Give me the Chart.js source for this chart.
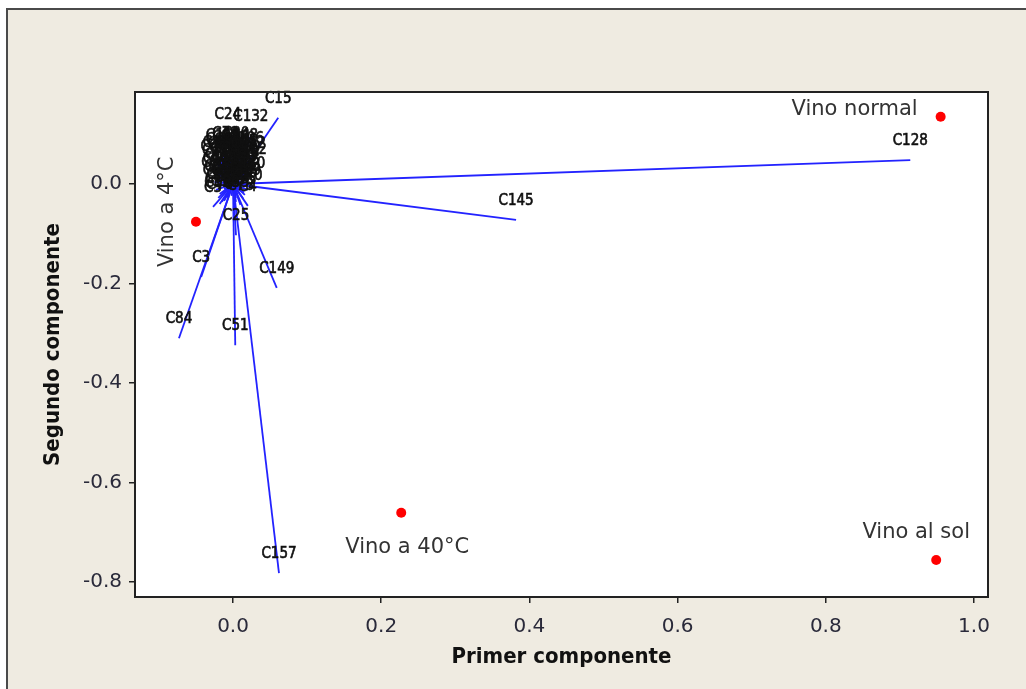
<!DOCTYPE html>
<html>
<head>
<meta charset="utf-8">
<script src="https://cdn.jsdelivr.net/npm/chart.js@4.4.1/dist/chart.umd.min.js"></script>
<style>
  html, body { margin: 0; padding: 0; background: #ffffff; }
  #wrap { width: 1026px; height: 689px; position: relative; }
</style>
</head>
<body>
<div id="wrap"><canvas id="c" width="1026" height="689"></canvas></div>
<script>
// ---------- DATA ----------
const xTickValues = [0.0, 0.2, 0.4, 0.6, 0.8, 1.0];
const yTickValues = [-0.8, -0.6, -0.4, -0.2, 0.0];

// Loading vectors (component 1, component 2)
const vectorNames = ['C128','C145','C15','C157','C149','C51','C84','C3','C25','C24','C132',
  'C1','C2','C6','C8','C9','C10','C11','C13','C14','C16','C17','C19','C20','C21','C22','C23','C26',
  'C28','C29','C30','C31','C32','C34','C35','C36','C38','C39','C5','C4',
  'C40','C42','C43','C45','C46','C47','C48','C49','C50','C52','C53','C54','C55',
  'C57','C58','C60','C61','C63','C65','C66','C67','C68','C69','C71','C72','C74','C75','C76','C78','C79','C80',
  'C102','C106','C110','C114','C118','C120','C122','C126','C130','C134','C138','C140','C142','C148','C150','C152'];
const vectorPC1 = [0.914, 0.382, 0.061, 0.062, 0.059, 0.003, -0.073, -0.043, 0.004, -0.007, 0.024,
  -0.016, -0.004, 0.008, -0.022, -0.010, 0.002, 0.013, -0.024, -0.013, -0.001, 0.010, 0.017, -0.023, -0.011, 0.001, 0.012, 0.018,
  -0.021, -0.009, 0.003, 0.014, -0.018, -0.006, 0.006, 0.015, -0.012, 0.004, -0.027, 0.020,
  -0.019, -0.007, 0.005, 0.015, -0.026, -0.015, -0.004, 0.008, 0.019, -0.020, -0.008, 0.005, 0.016,
  -0.025, -0.014, -0.002, 0.009, 0.019, -0.023, -0.012, 0.000, 0.011, 0.020, -0.020, -0.008, 0.004, 0.014, -0.018, 0.010, -0.010, 0.004,
  0.022, 0.018, -0.013, 0.000, 0.012, -0.005, 0.007, -0.017, 0.020, -0.009, 0.003, 0.016, -0.002, 0.010, -0.015, 0.021];
const vectorPC2 = [0.048, -0.072, 0.133, -0.782, -0.209, -0.324, -0.310, -0.187, -0.103, 0.100, 0.096,
  0.055, 0.056, 0.054, 0.042, 0.044, 0.043, 0.040, 0.028, 0.030, 0.027, 0.029, 0.024, 0.012, 0.014, 0.011, 0.013, 0.008,
  -0.004, -0.002, -0.005, -0.003, -0.020, -0.018, -0.021, -0.017, -0.034, -0.036, -0.046, -0.044,
  0.050, 0.049, 0.048, 0.046, 0.036, 0.036, 0.037, 0.035, 0.034, 0.020, 0.021, 0.019, 0.018,
  0.004, 0.006, 0.004, 0.005, 0.000, -0.012, -0.010, -0.012, -0.011, -0.012, -0.028, -0.027, -0.028, -0.030, -0.040, -0.042, 0.062, 0.063,
  0.030, 0.052, 0.058, 0.032, 0.024, 0.016, 0.009, 0.044, 0.002, -0.006, -0.014, -0.022, -0.024, 0.059, -0.036, 0.041];

// Samples (scores)
const sampleNames = ['Vino normal', 'Vino a 4°C', 'Vino a 40°C', 'Vino al sol'];
const samplePC1 = [0.955, -0.050, 0.227, 0.949];
const samplePC2 = [0.135, -0.076, -0.661, -0.756];

// ---------- LAYOUT / STYLE ----------
const sampleLabelLayout = [
  {dx: -23, dy: -7, align: 'right', rot: 0},
  {dx: -28, dy: -10, align: 'center', rot: -Math.PI / 2},
  {dx: 6, dy: 35, align: 'center', rot: 0},
  {dx: -20, dy: -28, align: 'center', rot: 0}
];
const BLUE = 'rgb(35,35,255)';

const datasets = [];
vectorNames.forEach((n, i) => {
  datasets.push({
    label: n,
    data: [{x: 0, y: 0}, {x: vectorPC1[i], y: vectorPC2[i]}],
    showLine: true,
    borderColor: BLUE,
    borderWidth: 1.8,
    pointRadius: 0,
    fill: false
  });
});
datasets.push({
  label: 'samples',
  data: sampleNames.map((n, i) => ({x: samplePC1[i], y: samplePC2[i]})),
  showLine: false,
  pointRadius: 5,
  pointBackgroundColor: '#ff0000',
  pointBorderWidth: 0,
  pointBorderColor: '#ff0000'
});

const framePlugin = {
  id: 'frame',
  beforeDraw(chart) {
    const ctx = chart.ctx;
    ctx.save();
    ctx.fillStyle = '#ffffff';
    ctx.fillRect(0, 0, chart.width, chart.height);
    ctx.fillStyle = '#efebe1';
    ctx.fillRect(7, 9, chart.width, chart.height);
    ctx.strokeStyle = '#4a4a4a';
    ctx.lineWidth = 2;
    ctx.strokeRect(7, 9, chart.width + 10, chart.height + 10);
    const a = chart.chartArea;
    ctx.fillStyle = '#ffffff';
    ctx.fillRect(a.left, a.top, a.right - a.left, a.bottom - a.top);
    ctx.restore();
  },
  afterDraw(chart) {
    const ctx = chart.ctx;
    const a = chart.chartArea;
    ctx.save();
    ctx.strokeStyle = '#222';
    ctx.lineWidth = 2;
    ctx.strokeRect(a.left, a.top, a.right - a.left, a.bottom - a.top);
    ctx.restore();
  }
};

const labelPlugin = {
  id: 'labels',
  afterDatasetsDraw(chart) {
    const ctx = chart.ctx;
    const xs = chart.scales.x, ys = chart.scales.y;
    ctx.save();
    ctx.font = '15px "DejaVu Sans Condensed", "DejaVu Sans", sans-serif';
    ctx.fillStyle = '#111';
    ctx.strokeStyle = '#111';
    ctx.lineWidth = 0.6;
    ctx.textAlign = 'center';
    ctx.textBaseline = 'middle';
    vectorNames.forEach((n, i) => {
      const px = xs.getPixelForValue(vectorPC1[i]);
      const py = ys.getPixelForValue(vectorPC2[i]);
      ctx.fillText(n, px, py - 19);
      ctx.strokeText(n, px, py - 19);
    });
    ctx.font = '21px "DejaVu Sans", sans-serif';
    ctx.fillStyle = '#333';
    sampleNames.forEach((n, i) => {
      const L = sampleLabelLayout[i];
      const px = xs.getPixelForValue(samplePC1[i]) + L.dx;
      const py = ys.getPixelForValue(samplePC2[i]) + L.dy;
      ctx.save();
      ctx.translate(px, py);
      ctx.rotate(L.rot);
      ctx.textAlign = L.align;
      ctx.fillText(n, 0, 0);
      ctx.restore();
    });
    ctx.restore();
  }
};

const tickFont = {family: '"DejaVu Sans", sans-serif', size: 20};
const titleFont = {family: '"DejaVu Sans Condensed", "DejaVu Sans", sans-serif', size: 22, weight: 'bold'};

new Chart(document.getElementById('c'), {
  type: 'scatter',
  data: {datasets},
  options: {
    responsive: false,
    animation: false,
    events: [],
    layout: {padding: {left: 0, top: 92, right: 38, bottom: 0}},
    plugins: {legend: {display: false}, tooltip: {enabled: false}},
    scales: {
      x: {
        type: 'linear',
        min: -0.1323, max: 1.0189,
        afterBuildTicks(s) { s.ticks = xTickValues.map(v => ({value: v})); },
        afterFit(s) { s.height = 92; },
        ticks: {font: tickFont, color: '#2a2a3a', padding: 12, maxRotation: 0,
          callback: v => Number(v).toFixed(1)},
        grid: {drawOnChartArea: false, drawTicks: true, tickLength: 6, color: '#222', lineWidth: 1.5},
        border: {display: true, color: '#222', width: 2},
        title: {display: true, text: 'Primer componente', font: titleFont, color: '#111',
          padding: {top: 0, bottom: 19}}
      },
      y: {
        type: 'linear',
        min: -0.8302, max: 0.1849,
        afterBuildTicks(s) { s.ticks = yTickValues.map(v => ({value: v})); },
        afterFit(s) { s.width = 135; },
        ticks: {font: tickFont, color: '#2a2a3a', padding: 7,
          callback: v => Number(v).toFixed(1)},
        grid: {drawOnChartArea: false, drawTicks: true, tickLength: 6, color: '#222', lineWidth: 1.5},
        border: {display: true, color: '#222', width: 2},
        title: {display: true, text: 'Segundo componente', font: titleFont, color: '#111',
          padding: {top: 40, bottom: 0}}
      }
    }
  },
  plugins: [framePlugin, labelPlugin]
});
</script>
</body>
</html>
